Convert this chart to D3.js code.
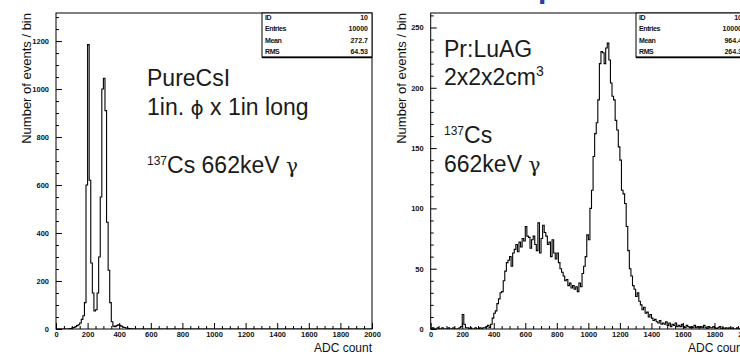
<!DOCTYPE html>
<html>
<head>
<meta charset="utf-8">
<script src="https://cdn.jsdelivr.net/npm/d3@7"></script>
<style>
  html, body { margin: 0; padding: 0; background: #fff; overflow: hidden; }
  svg { display: block; }
  text { font-family: "Liberation Sans", Arial, Helvetica, sans-serif; }
</style>
</head>
<body>
<svg id="chart" width="740" height="355"></svg>
<script>
// ADC bin edges: 200 bins of 10 counts, 0..2000
const binWidth = 10;
const xTicksMajor = [0, 200, 400, 600, 800, 1000, 1200, 1400, 1600, 1800, 2000];

// Pure CsI, 1in. diameter x 1in long, 137Cs 662 keV
const csiCounts = [
  0, 0, 0, 0, 0, 0, 0, 0, 1, 2,
  4, 6, 10, 14, 18, 25, 40, 55, 110, 600,
  1185, 620, 275, 150, 75, 80, 150, 300, 550, 1000,
  1045, 910, 445, 245, 110, 30, 12, 10, 14, 17,
  15, 12, 8, 6, 4, 3, 2, 1, 1, 0,
  0, 0, 0, 0, 0, 0, 0, 0, 0, 0,
  0, 0, 0, 0, 0, 0, 0, 0, 0, 0,
  0, 0, 0, 0, 0, 0, 0, 0, 0, 0,
  0, 0, 0, 0, 0, 0, 0, 0, 0, 0,
  0, 0, 0, 0, 0, 0, 0, 0, 0, 0,
  0, 0, 0, 0, 0, 0, 0, 0, 0, 0,
  0, 0, 0, 0, 0, 0, 0, 0, 0, 0,
  0, 0, 0, 0, 0, 0, 0, 0, 0, 0,
  0, 0, 0, 0, 0, 0, 0, 0, 0, 0,
  0, 0, 0, 0, 0, 0, 0, 0, 0, 0,
  0, 0, 0, 0, 0, 0, 0, 0, 0, 0,
  0, 0, 0, 0, 0, 0, 0, 0, 0, 0,
  0, 0, 0, 0, 0, 0, 0, 0, 0, 0,
  0, 0, 0, 0, 0, 0, 0, 0, 0, 0,
  0, 0, 0, 0, 0, 0, 0, 0, 0, 0
];

// Pr:LuAG, 2x2x2 cm3, 137Cs 662 keV
const luagCounts = [
  0, 1, 0, 0, 1, 0, 0, 1, 0, 0,
  0, 1, 0, 0, 1, 0, 0, 0, 1, 2,
  12, 4, 1, 1, 0, 1, 0, 0, 1, 0,
  0, 1, 0, 1, 1, 2, 3, 1, 4, 9,
  13, 15, 21, 25, 30, 31, 40, 48, 55, 57,
  60, 52, 63, 66, 70, 64, 72, 68, 75, 73,
  85, 77, 76, 67, 74, 77, 70, 65, 88, 63,
  75, 86, 80, 77, 70, 72, 60, 74, 63, 58,
  63, 55, 50, 47, 44, 40, 41, 36, 38, 34,
  36, 33, 35, 31, 38, 35, 46, 52, 60, 78,
  74, 100, 115, 143, 162, 171, 190, 220, 230, 229,
  220, 233, 237, 223, 204, 193, 190, 173, 165, 151,
  140, 115, 112, 104, 85, 65, 50, 44, 36, 33,
  27, 30, 23, 20, 16, 18, 13, 14, 10, 12,
  9, 7, 8, 6, 5, 7, 4, 5, 4, 6,
  3, 5, 2, 4, 3, 5, 2, 3, 2, 4,
  2, 1, 3, 2, 1, 2, 1, 3, 1, 2,
  1, 2, 1, 3, 1, 0, 2, 1, 1, 2,
  1, 0, 1, 2, 0, 1, 0, 1, 0, 1,
  0, 1, 0, 0, 1, 0, 0, 1, 0, 0
];

const csiYTicks = [0, 200, 400, 600, 800, 1000, 1200];
const luagYTicks = [0, 50, 100, 150, 200, 250];

const statLabels = ["ID", "Entries", "Mean", "RMS"];
const csiStats = ["10", "10000", "272.7", "64.53"];
const luagStats = ["10", "10000", "964.4", "264.3"];

const svg = d3.select("#chart");
const ink = "#111";

// Title line sitting above the frame (only its lowest edge is in view)
svg.append("text").attr("x", 538).attr("y", -2.5).attr("text-anchor", "end")
  .attr("font-size", 30).attr("font-weight", "bold").attr("fill", "#c4c4c4")
  .text("PureCsI and Pr:LuAG: 137Cs s");
svg.append("text").attr("x", 538).attr("y", -2.5)
  .attr("font-size", 30).attr("font-weight", "bold").attr("fill", "#2340a8")
  .text("p");
svg.append("text").attr("x", 556).attr("y", -2.5)
  .attr("font-size", 30).attr("font-weight", "bold").attr("fill", "#c4c4c4")
  .text("ectra");

function panel(opt) {
  const x = d3.scaleLinear().domain([0, 2000]).range([opt.left, opt.right]);
  const y = d3.scaleLinear().domain([0, opt.yMax]).range([opt.bottom, opt.top]);
  const g = svg.append("g");
  const fmt = d3.format("d");

  const clipId = "clip" + opt.id;
  g.append("clipPath").attr("id", clipId).append("rect")
    .attr("x", opt.left).attr("y", opt.top)
    .attr("width", opt.right - opt.left).attr("height", opt.bottom - opt.top);

  // histogram as a step line
  const pts = opt.counts.map((c, i) => [i * binWidth, c]);
  pts.push([opt.counts.length * binWidth, opt.counts[opt.counts.length - 1]]);
  const line = d3.line().x(d => x(d[0])).y(d => y(d[1])).curve(d3.curveStepAfter);
  g.append("path").attr("clip-path", `url(#${clipId})`)
    .attr("d", line(pts)).attr("fill", "none")
    .attr("stroke", "#000").attr("stroke-width", 1.1);

  // x axis: major + minor ticks pointing into the frame
  const xMinor = d3.range(0, 2001, 50).filter(v => v % 200 !== 0);
  const xAx = g.append("g").attr("transform", `translate(0,${opt.bottom})`)
    .call(d3.axisBottom(x).tickValues(xTicksMajor).tickFormat(fmt)
      .tickSizeInner(-6).tickSizeOuter(0).tickPadding(3));
  const xAxMinor = g.append("g").attr("transform", `translate(0,${opt.bottom})`)
    .call(d3.axisBottom(x).tickValues(xMinor).tickSizeInner(-3).tickSizeOuter(0).tickFormat(""));

  const yMinor = d3.range(0, opt.yMax + 1, opt.yMinorStep).filter(v => v % opt.yMajorStep !== 0);
  const yAx = g.append("g").attr("transform", `translate(${opt.left},0)`)
    .call(d3.axisLeft(y).tickValues(opt.yTicks).tickFormat(fmt)
      .tickSizeInner(-6).tickSizeOuter(0).tickPadding(7));
  const yAxMinor = g.append("g").attr("transform", `translate(${opt.left},0)`)
    .call(d3.axisLeft(y).tickValues(yMinor).tickSizeInner(-3).tickSizeOuter(0).tickFormat(""));

  [xAx, xAxMinor, yAx, yAxMinor].forEach(a => {
    a.select(".domain").remove();
    a.selectAll(".tick line").attr("stroke", "#000");
    a.selectAll("text").attr("font-size", 7.5).attr("font-weight", "bold")
      .attr("fill", ink).attr("font-family", "Liberation Sans, Arial, sans-serif");
  });

  // frame
  g.append("rect").attr("x", opt.left).attr("y", opt.top)
    .attr("width", opt.right - opt.left).attr("height", opt.bottom - opt.top)
    .attr("fill", "none").attr("stroke", "#000").attr("stroke-width", 1);

  // statistics box
  const bx = opt.right - 110, by = opt.top, bw = 110, bh = 44;
  g.append("rect").attr("x", bx).attr("y", by).attr("width", bw).attr("height", bh)
    .attr("fill", "#fff").attr("stroke", "#000").attr("stroke-width", 1);
  g.append("line").attr("x1", bx).attr("x2", bx + bw).attr("y1", by + bh + 0.5).attr("y2", by + bh + 0.5)
    .attr("stroke", "#000").attr("stroke-width", 1.5);
  statLabels.forEach((lab, i) => {
    const ty = by + 7 + i * 11.3;
    g.append("text").attr("x", bx + 3).attr("y", ty).attr("font-size", 7)
      .attr("font-weight", "bold").attr("letter-spacing", -0.4).attr("fill", ink).text(lab);
    g.append("text").attr("x", bx + bw - 4).attr("y", ty).attr("font-size", 7)
      .attr("text-anchor", "end").attr("font-weight", "bold").attr("fill", ink).text(opt.stats[i]);
  });

  // axis titles
  g.append("text").attr("transform", `translate(${opt.yTitleX},${opt.top}) rotate(-90)`)
    .attr("text-anchor", "end").attr("font-size", 13).attr("fill", ink)
    .text("Number of events / bin");
  g.append("text").attr("x", opt.right).attr("y", 352)
    .attr("text-anchor", "end").attr("font-size", 12).attr("fill", ink)
    .text("ADC count");

  return g;
}

const gL = panel({
  id: "L", left: 56, right: 372, top: 13, bottom: 329, yMax: 1317,
  yTicks: csiYTicks, yMajorStep: 200, yMinorStep: 50,
  counts: csiCounts, stats: csiStats, yTitleX: 31
});
const gR = panel({
  id: "R", left: 430.7, right: 746, top: 13, bottom: 329, yMax: 262,
  yTicks: luagYTicks, yMajorStep: 50, yMinorStep: 10,
  counts: luagCounts, stats: luagStats, yTitleX: 406
});

// annotations
const big = 23, annot = "#1a1a1a";
function sourceLine(sel, x, y, withEnergy) {
  const t = sel.append("text").attr("x", x).attr("y", y).attr("font-size", big).attr("fill", annot);
  t.append("tspan").attr("font-size", 12).attr("dy", -8).text("137");
  t.append("tspan").attr("dy", 8).text("Cs");
  if (withEnergy) {
    t.append("tspan").text(" 662keV ");
    t.append("tspan").attr("font-size", 20).attr("font-family", "DejaVu Serif, serif").text("γ");
  }
}

gL.append("text").attr("x", 147).attr("y", 86).attr("font-size", big).attr("fill", annot).text("PureCsI");
const l2 = gL.append("text").attr("x", 147).attr("y", 115).attr("font-size", big).attr("fill", annot);
l2.append("tspan").text("1in. ");
l2.append("tspan").attr("font-family", "DejaVu Sans, sans-serif").attr("font-size", 20).text("ϕ");
l2.append("tspan").text(" x 1in long");
sourceLine(gL, 147, 173, true);

gR.append("text").attr("x", 444).attr("y", 57).attr("font-size", big).attr("fill", annot).text("Pr:LuAG");
const r2 = gR.append("text").attr("x", 444).attr("y", 85).attr("font-size", big).attr("fill", annot);
r2.append("tspan").text("2x2x2cm");
r2.append("tspan").attr("font-size", 14).attr("dy", -9).text("3");
sourceLine(gR, 444, 143, false);
const r4 = gR.append("text").attr("x", 444).attr("y", 172).attr("font-size", big).attr("fill", annot);
r4.append("tspan").text("662keV ");
r4.append("tspan").attr("font-size", 20).attr("font-family", "DejaVu Serif, serif").text("γ");
</script>
</body>
</html>
